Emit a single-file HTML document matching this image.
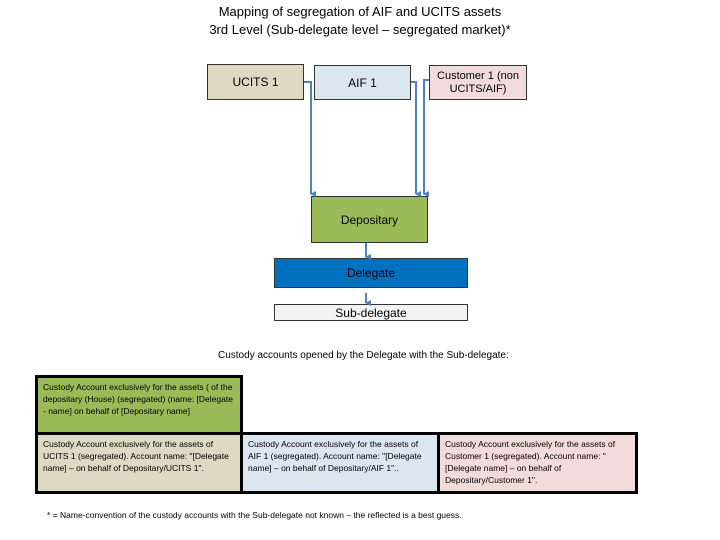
<!DOCTYPE html>
<html><head><meta charset="utf-8"><style>
body{margin:0;width:720px;height:540px;background:#fff;position:relative;font-family:"Liberation Sans",sans-serif;overflow:hidden}
.a{position:absolute;box-sizing:border-box}
.t{font-size:13px;color:#000;text-align:center;width:720px;left:0}
.n{border:1px solid #333;display:flex;align-items:center;justify-content:center;text-align:center;font-size:12px}
.c{font-size:8.5px;line-height:12px;padding:3px 5px;border:3px solid #000}
</style></head><body>
<div class="a t" style="top:3px;line-height:18px">Mapping of segregation of AIF and UCITS assets<br>3rd Level (Sub-delegate level – segregated market)*</div>
<div class="a n" style="left:207px;top:64px;width:97px;height:36px;background:#ddd9c3">UCITS 1</div>
<div class="a n" style="left:314px;top:65px;width:97px;height:35px;background:#dce6f1">AIF 1</div>
<div class="a n" style="left:429px;top:65px;width:98px;height:35px;background:#f2dcdb;font-size:11px;line-height:13px">Customer 1 (non<br>UCITS/AIF)</div>
<div class="a n" style="left:311px;top:196px;width:117px;height:47px;background:#9bbb59">Depositary</div>
<div class="a n" style="left:274px;top:258px;width:194px;height:30px;background:#0070c0;color:#000">Delegate</div>
<div class="a n" style="left:274px;top:304px;width:194px;height:17px;background:#f2f2f2;line-height:10px">Sub-delegate</div>
<svg class="a" style="left:0;top:0" width="720" height="540">
<defs><marker id="m" markerWidth="6" markerHeight="6" refX="3" refY="5" orient="auto-start-reverse" markerUnits="userSpaceOnUse"><path d="M0,0 L6,0 L3,6z" fill="#4f81bd"/></marker></defs>
<g stroke="#4f81bd" stroke-width="2" fill="none">
<polyline points="304,82 311,82 311,194" marker-end="url(#m)"/>
<polyline points="411,82 416,82 416,194" marker-end="url(#m)"/>
<polyline points="429,80 424,80 424,194" marker-end="url(#m)"/>
<line x1="366" y1="243" x2="366" y2="257" marker-end="url(#m)"/>
<line x1="366" y1="293" x2="366" y2="303" marker-end="url(#m)"/>
</g></svg>
<div class="a" style="left:218px;top:350px;font-size:10px">Custody accounts opened by the Delegate with the Sub-delegate:</div>
<div class="a c" style="left:35px;top:375px;width:208px;height:60px;background:#9bbb59">Custody Account exclusively for the assets ( of the depositary (House) (segregated) (name: [Delegate - name] on behalf of [Depositary name]</div>
<div class="a c" style="left:35px;top:432px;width:208px;height:62px;background:#ddd9c3">Custody Account exclusively for the assets of UCITS 1 (segregated). Account name: "[Delegate name] – on behalf of Depositary/UCITS 1".</div>
<div class="a c" style="left:240px;top:432px;width:200px;height:62px;background:#dce6f1">Custody Account exclusively for the assets of AIF 1 (segregated). Account name: "[Delegate name] – on behalf of Depositary/AIF 1"..</div>
<div class="a c" style="left:437px;top:432px;width:201px;height:62px;background:#f2dcdb">Custody Account exclusively for the assets of Customer 1 (segregated). Account name: "[Delegate name] – on behalf of Depositary/Customer 1".</div>
<div class="a" style="left:47px;top:510px;font-size:8.5px">* = Name-convention of the custody accounts with the Sub-delegate not known – the reflected is a best guess.</div>
</body></html>
